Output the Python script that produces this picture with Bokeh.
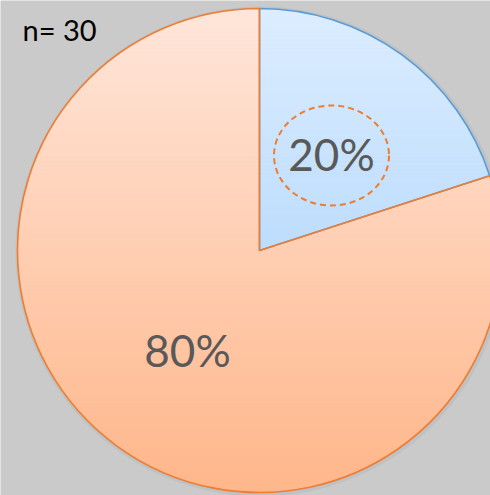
import numpy as np
from bokeh.plotting import figure
from bokeh.models import Range1d
from bokeh.core.properties import value
from bokeh.embed import file_html
from bokeh.resources import INLINE

# ---- data ----
categories = ["Yes", "No"]
shares = [20, 80]
labels = ["20%", "80%"]
sample_note = "n= 30"

W, H = 490, 495
CX, CY, R = 259, 245, 242

p = figure(width=W, height=H, x_range=Range1d(0, W), y_range=Range1d(0, H),
           output_backend="svg", toolbar_location=None, min_border=0)
p.axis.visible = False
p.grid.visible = False
p.outline_line_color = None
p.background_fill_color = "#cacaca"
p.border_fill_color = "#cacaca"

total = sum(shares)
angles = np.array(shares) / total * 2 * np.pi
starts = []
ends = []
a = np.pi / 2
for ang in angles:
    starts.append(a)
    a = a - ang
    ends.append(a)

tops = ["#dcedff", "#ffe6da"]
bots = ["#9ecdfb", "#ffb68a"]
edges = ["#5b9bd5", "#ed7d31"]

def hex2rgb(h):
    return np.array([int(h[i:i+2], 16) for i in (1, 3, 5)], dtype=float)

def clip(poly, y0, y1):
    def clip_half(pts, keep, inter):
        out = []
        n = len(pts)
        for i in range(n):
            cur = pts[i]; prev = pts[i - 1]
            if keep(cur):
                if not keep(prev):
                    out.append(inter(prev, cur))
                out.append(cur)
            elif keep(prev):
                out.append(inter(prev, cur))
        return out
    def inter_y(yc):
        def f(p1, p2):
            t = (yc - p1[1]) / (p2[1] - p1[1])
            return (p1[0] + t * (p2[0] - p1[0]), yc)
        return f
    pts = clip_half(poly, lambda q: q[1] >= y0, inter_y(y0))
    if not pts:
        return pts
    pts = clip_half(pts, lambda q: q[1] <= y1, inter_y(y1))
    return pts

# soft shadow halo
p.circle(x=[CX + 1], y=[CY - 1], radius=R + 3, fill_color="#a9b4bd", fill_alpha=0.35, line_color=None)

nb = 120
ytop, ybot = CY + R, CY - R
bands = np.linspace(ybot, ytop, nb + 1)
for k in range(len(shares)):
    th = np.linspace(starts[k], ends[k], 200)
    poly = [(CX, CY)] + [(CX + R * np.cos(t), CY + R * np.sin(t)) for t in th]
    c_top, c_bot = hex2rgb(tops[k]), hex2rgb(bots[k])
    xs, ys, cols = [], [], []
    for i in range(nb):
        y0, y1 = bands[i], bands[i + 1] + 0.6
        cp = clip(poly, y0, y1)
        if len(cp) < 3:
            continue
        f = ((bands[i] + bands[i + 1]) / 2 - ybot) / (ytop - ybot)
        c = c_bot + (c_top - c_bot) * f
        xs.append([q[0] for q in cp]); ys.append([q[1] for q in cp])
        cols.append("#%02x%02x%02x" % tuple(int(round(v)) for v in c))
    p.patches(xs=xs, ys=ys, fill_color=cols, line_color=None)

for k in range(len(shares)):
    p.wedge(x=[CX], y=[CY], radius=R, start_angle=[ends[k]], end_angle=[starts[k]],
            fill_color=None, line_color=edges[k], line_width=1.6)

# labels
p.ellipse(x=[331], y=[340], width=115, height=100, fill_color=None,
          line_color="#ed7d31", line_width=2, line_dash="6 4")
p.text(x=[331, 187], y=[342, 146], text=labels, text_font=value("Lato"),
       text_font_size="44px", text_color="#595959", text_align="center",
       text_baseline="middle")
p.text(x=[22], y=[466], text=[sample_note], text_font=value("Lato"),
       text_font_size="29px", text_color="#000000", text_align="left",
       text_baseline="alphabetic")

open("out.html", "w").write(file_html(p, INLINE))
